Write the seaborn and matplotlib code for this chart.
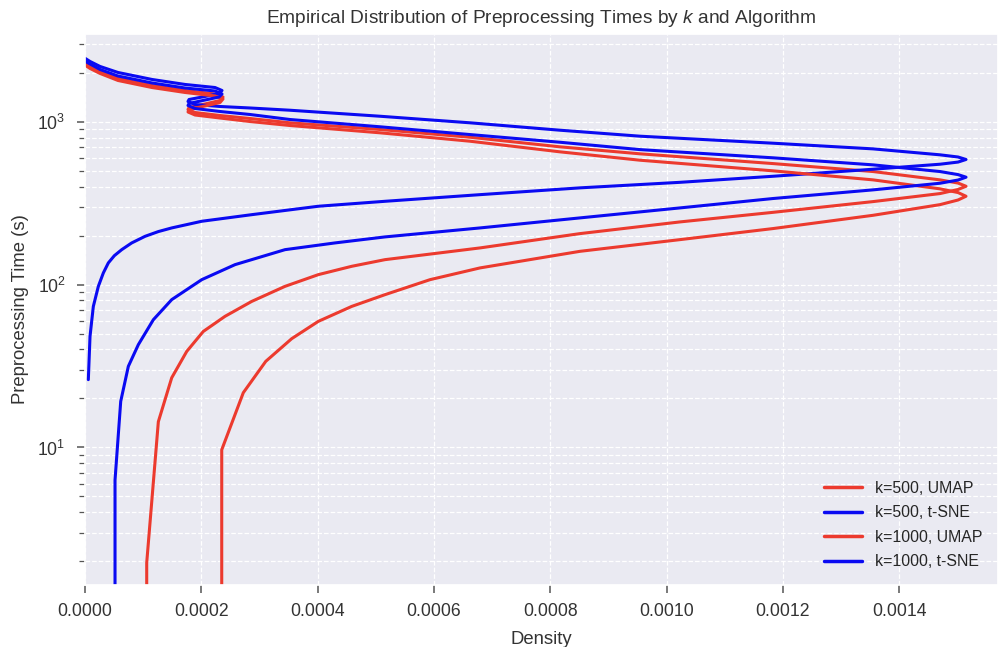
import numpy as np
import pandas as pd
import matplotlib
matplotlib.use("Agg")
import matplotlib.pyplot as plt
from matplotlib.lines import Line2D
import seaborn as sns

# ---- data (time in s, density) ----
labels = ["k=500, UMAP", "k=500, t-SNE", "k=1000, UMAP", "k=1000, t-SNE"]
colors = {"k=500, UMAP": "#ec3a2e", "k=500, t-SNE": "#0a0af2",
          "k=1000, UMAP": "#ec3a2e", "k=1000, t-SNE": "#0a0af2"}

umap_k500_time = [1.0, 1.96, 14.4, 26.8, 38.9, 51.6, 63.9, 78.9, 97.6, 115.2, 129.6, 142.4,
                  168.1, 205.8, 242.8, 278, 323.6, 362.5, 384, 402, 420.6, 440, 495, 554,
                  636, 702, 804, 897, 986, 1048, 1093, 1141, 1190, 1224, 1287, 1352, 1420,
                  1482, 1557, 1672, 1845, 2038, 2188, 2282]
umap_k500_density = [1.061e-4, 1.061e-4, 1.261e-4, 1.491e-4, 1.749e-4, 2.034e-4, 2.408e-4,
                     2.867e-4, 3.439e-4, 4.012e-4, 4.586e-4, 5.159e-4, 6.793e-4, 8.512e-4,
                     10.232e-4, 11.831e-4, 13.551e-4, 14.703e-4, 15.013e-4, 15.15e-4,
                     15.013e-4, 14.703e-4, 13.551e-4, 11.831e-4, 9.544e-4, 8.168e-4,
                     6.621e-4, 5.073e-4, 3.525e-4, 2.838e-4, 2.322e-4, 1.892e-4, 1.771e-4,
                     1.789e-4, 2.064e-4, 2.322e-4, 2.373e-4, 2.236e-4, 1.720e-4, 1.152e-4,
                     0.567e-4, 0.258e-4, 0.086e-4, 0.009e-4]

tsne_k500_time = [26.1, 48.1, 73.5, 97.6, 118, 136, 150.6, 164, 180.4, 198, 211.8, 223, 245,
                  269, 303, 325, 357, 393, 425, 463, 511.5, 549, 566, 587, 608, 627, 682,
                  739, 816, 888, 986, 1082, 1178, 1216, 1242, 1277, 1333, 1371, 1431, 1493,
                  1557, 1624, 1696, 1820, 2009, 2188, 2348, 2449]
tsne_k500_density = [0.057e-4, 0.086e-4, 0.143e-4, 0.229e-4, 0.315e-4, 0.401e-4, 0.504e-4,
                     0.631e-4, 0.803e-4, 1.032e-4, 1.261e-4, 1.491e-4, 2.007e-4, 2.867e-4,
                     4.012e-4, 5.159e-4, 6.793e-4, 8.512e-4, 10.232e-4, 11.831e-4,
                     13.551e-4, 14.703e-4, 15.013e-4, 15.15e-4, 15.013e-4, 14.703e-4,
                     13.551e-4, 11.831e-4, 9.544e-4, 8.168e-4, 6.621e-4, 5.073e-4,
                     3.525e-4, 2.838e-4, 2.322e-4, 1.892e-4, 1.771e-4, 1.789e-4, 2.064e-4,
                     2.304e-4, 2.356e-4, 2.236e-4, 1.720e-4, 1.152e-4, 0.567e-4, 0.258e-4,
                     0.086e-4, 0.005e-4]

umap_k1000_time = [1.0, 9.68, 21.7, 33.8, 46.6, 59.5, 73.5, 86.8, 107.3, 126.7, 160.2, 189,
                   221, 266.6, 310, 331, 349, 367.7, 387.5, 440, 500, 581, 654, 760, 856,
                   949, 1004, 1055, 1101, 1149, 1190, 1251, 1314, 1381, 1441, 1514, 1624,
                   1794, 1982, 2127, 2218]
umap_k1000_density = [2.351e-4, 2.351e-4, 2.722e-4, 3.108e-4, 3.555e-4, 4.012e-4, 4.586e-4,
                      5.159e-4, 5.933e-4, 6.793e-4, 8.512e-4, 10.232e-4, 11.831e-4,
                      13.551e-4, 14.703e-4, 15.013e-4, 15.15e-4, 15.013e-4, 14.703e-4,
                      13.551e-4, 11.831e-4, 9.544e-4, 8.168e-4, 6.621e-4, 5.073e-4,
                      3.525e-4, 2.838e-4, 2.322e-4, 1.892e-4, 1.771e-4, 1.789e-4, 2.064e-4,
                      2.322e-4, 2.373e-4, 2.236e-4, 1.720e-4, 1.152e-4, 0.567e-4, 0.258e-4,
                      0.086e-4, 0.009e-4]

tsne_k1000_time = [1.0, 6.3, 19.2, 31.5, 42.8, 60.9, 80.9, 107.3, 132.7, 164, 180.4, 196.4,
                   223, 257, 296, 338, 382, 419.5, 439, 457, 474, 495, 544, 601, 675, 749,
                   835, 932, 1033, 1109, 1157, 1207, 1260, 1296, 1361, 1420, 1482, 1546,
                   1613, 1732, 1911, 2097, 2266, 2348]
tsne_k1000_density = [0.516e-4, 0.516e-4, 0.614e-4, 0.745e-4, 0.917e-4, 1.175e-4, 1.491e-4,
                      2.007e-4, 2.580e-4, 3.439e-4, 4.299e-4, 5.159e-4, 6.793e-4, 8.512e-4,
                      10.232e-4, 11.831e-4, 13.551e-4, 14.703e-4, 15.013e-4, 15.15e-4,
                      15.013e-4, 14.703e-4, 13.551e-4, 11.831e-4, 9.544e-4, 8.168e-4,
                      6.621e-4, 5.073e-4, 3.525e-4, 2.838e-4, 2.322e-4, 1.892e-4, 1.771e-4,
                      1.789e-4, 2.064e-4, 2.304e-4, 2.356e-4, 2.236e-4, 1.720e-4, 1.152e-4,
                      0.567e-4, 0.258e-4, 0.086e-4, 0.009e-4]

xtick_values = [0, 0.0002, 0.0004, 0.0006, 0.0008, 0.0010, 0.0012, 0.0014]
xtick_labels = ["0.0000", "0.0002", "0.0004", "0.0006", "0.0008", "0.0010", "0.0012", "0.0014"]

series = {
    "k=500, UMAP": (umap_k500_time, umap_k500_density),
    "k=500, t-SNE": (tsne_k500_time, tsne_k500_density),
    "k=1000, UMAP": (umap_k1000_time, umap_k1000_density),
    "k=1000, t-SNE": (tsne_k1000_time, tsne_k1000_density),
}
frames = []
for name in labels:
    t, d = series[name]
    frames.append(pd.DataFrame({"time": t, "density": d, "series": name}))
df = pd.concat(frames, ignore_index=True)

# ---- style ----
sns.set_theme(style="darkgrid")
plt.rcParams["font.family"] = ["Liberation Sans", "DejaVu Sans"]
plt.rcParams["mathtext.fontset"] = "custom"
plt.rcParams["mathtext.rm"] = "Liberation Sans"
plt.rcParams["mathtext.it"] = "Liberation Sans:italic"

fig = plt.figure(figsize=(9.99, 6.47), dpi=100)
ax = fig.add_axes([0.0851, 0.0958, 0.9139, 0.8516])

sns.lineplot(data=df, x="density", y="time", hue="series", hue_order=labels,
             palette=colors, sort=False, estimator=None, units="series",
             orient="y", linewidth=2.2, ax=ax, legend=False)

ax.set_yscale("log")
ax.set_ylim(1.43, 3460)
ax.set_xlim(0, 0.00157)
ax.set_xticks(xtick_values)
ax.set_xticklabels(xtick_labels)

ax.grid(True, which="major", color="white", linestyle="--", linewidth=0.9)
ax.grid(True, which="minor", axis="y", color="white", linestyle="--", linewidth=0.9)
ax.tick_params(axis="both", which="major", length=6, width=1.1, color="#555555",
               labelsize=12.7, labelcolor="#333333", bottom=True, left=True)
ax.tick_params(axis="x", which="major", pad=7)
ax.tick_params(axis="y", which="major", pad=8)
ax.tick_params(axis="y", which="minor", length=4, width=0.9, color="#555555", left=True)

ax.set_xlabel("Density", fontsize=13.3, color="#333333", labelpad=8)
ax.set_ylabel("Preprocessing Time (s)", fontsize=13.3, color="#333333", labelpad=6)
ax.set_title("Empirical Distribution of Preprocessing Times by $k$ and Algorithm",
             fontsize=13.8, color="#333333", pad=8)

handles = [Line2D([0], [0], color=colors[n], lw=2.5) for n in labels]
ax.legend(handles, labels, loc="lower right", frameon=False, fontsize=11.4,
          handlelength=2.4, labelspacing=0.6, borderaxespad=0.6)

fig.savefig("out.png", dpi=100)
